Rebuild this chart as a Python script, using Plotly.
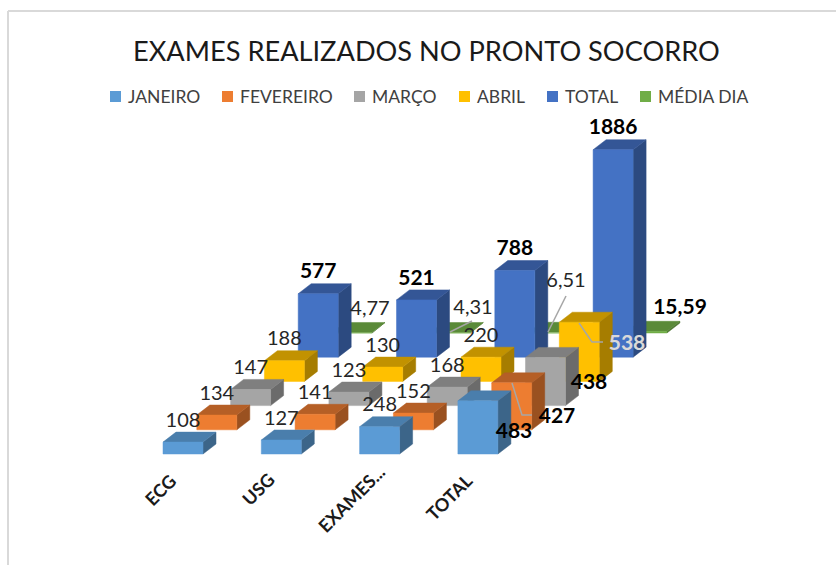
import plotly.graph_objects as go

categories = ["ECG", "USG", "EXAMES...", "TOTAL"]
series_names = ["JANEIRO", "FEVEREIRO", "MARÇO", "ABRIL", "TOTAL", "MÉDIA DIA"]
janeiro = [108, 127, 248, 483]
fevereiro = [134, 141, 152, 427]
marco = [147, 123, 168, 438]
abril = [188, 130, 220, 538]
total = [577, 521, 788, 1886]
media_dia = [4.77, 4.31, 6.51, 15.59]
series_values = [janeiro, fevereiro, marco, abril, total, media_dia]

front_colors = ["#5B9BD5", "#ED7D31", "#A5A5A5", "#FFC000", "#4472C4", "#70AD47"]
top_colors = ["#4A7EAC", "#B55F26", "#7F7F7F", "#C29200", "#345696", "#5A8A38"]
side_colors = ["#3C6589", "#9A5120", "#6B6B6B", "#A67D00", "#2C4A80", "#4C7530"]

W, H = 836, 565
CAT_PX, VAL_PX = 98.3, 0.11        # pixels per category / per value unit
X0_PX, Y0_PX = 163, 454            # where category 0, value 0 of the front series sits
BAR_W = 40 / CAT_PX
SER_DX, SER_DY = 33.8 / CAT_PX, 24.2 / VAL_PX
DEP_DX, DEP_DY = 13 / CAT_PX, 10 / VAL_PX


def at(xp, yp):
    return (xp - X0_PX) / CAT_PX, (Y0_PX - yp) / VAL_PX


def origin(c, s):
    return c + s * SER_DX, s * SER_DY


fig = go.Figure()


def poly(xs, ys, color):
    fig.add_trace(go.Scatter(x=xs, y=ys, mode="lines", fill="toself", fillcolor=color,
                             line=dict(color=color, width=0.5), hoverinfo="skip", showlegend=False))


for s in reversed(range(len(series_values))):
    fx, fy, tx, ty, rx, ry = [], [], [], [], [], []
    for c, v in enumerate(series_values[s]):
        x, y = origin(c, s)
        fx += [x, x + BAR_W, x + BAR_W, x, x, None]
        fy += [y, y, y + v, y + v, y, None]
        tx += [x, x + BAR_W, x + BAR_W + DEP_DX, x + DEP_DX, x, None]
        ty += [y + v, y + v, y + v + DEP_DY, y + v + DEP_DY, y + v, None]
        rx += [x + BAR_W, x + BAR_W + DEP_DX, x + BAR_W + DEP_DX, x + BAR_W, x + BAR_W, None]
        ry += [y, y + DEP_DY, y + v + DEP_DY, y + v, y, None]
    poly(rx, ry, side_colors[s])
    poly(tx, ty, top_colors[s])
    poly(fx, fy, front_colors[s])

# leader lines of the moved data labels (page pixels)
leaders = [
    [(472, 321), (450, 332)],
    [(566, 296), (548, 332)],
    [(579, 323), (592, 342), (603, 342)],
    [(512, 383), (522, 415), (532, 415)],
]
for pts in leaders:
    conv = [at(*p) for p in pts]
    fig.add_trace(go.Scatter(x=[p[0] for p in conv], y=[p[1] for p in conv], mode="lines",
                             line=dict(color="#A6A6A6", width=1.5), hoverinfo="skip", showlegend=False))

# data labels: above the bar by default; hand-moved ones as in the reference
moved = {
    (5, 0): (370, 310), (5, 1): (473, 309), (5, 2): (566, 282), (5, 3): (680, 309),
    (0, 3): (514, 433), (1, 3): (557, 418), (2, 3): (589, 384), (3, 3): (627, 345),
}
lx, ly, lt, lc, ls = [], [], [], [], []
for s, vals in enumerate(series_values):
    for c, v in enumerate(vals):
        if (s, c) in moved:
            x, y = at(*moved[(s, c)])
        else:
            x0, y0 = origin(c, s)
            x, y = x0 + BAR_W / 2, y0 + v + 20.5 / VAL_PX
        bold = s == 4 or c == 3
        txt = f"{v:.2f}".replace(".", ",") if s == 5 else str(v)
        if bold:
            txt = f"<b>{txt}</b>"
        lx.append(x)
        ly.append(y)
        lt.append(txt)
        ls.append(21 if bold else 20)
        lc.append("#D9D9D9" if (s, c) == (3, 3) else "#000000" if bold else "#262626")
fig.add_trace(go.Scatter(x=lx, y=ly, text=lt, mode="text", textposition="middle center",
                         textfont=dict(family="Lato", size=ls, color=lc),
                         hoverinfo="skip", showlegend=False))

annotations = [dict(text="EXAMES REALIZADOS NO PRONTO SOCORRO", xref="paper", yref="paper",
                    x=426 / W, y=1 - 50 / H, xanchor="center", yanchor="middle", showarrow=False,
                    font=dict(family="Lato", size=27.2, color="#1a1a1a"))]
shapes = [
    dict(type="line", xref="paper", yref="paper", x0=8 / W, x1=8 / W, y0=0, y1=1 - 11 / H,
         line=dict(color="#D9D9D9", width=2)),
    dict(type="line", xref="paper", yref="paper", x0=8 / W, x1=1, y0=1 - 11 / H, y1=1 - 11 / H,
         line=dict(color="#D9D9D9", width=2)),
]

swatch_px = [110, 222, 354, 459, 547, 640]
for name, sx, col in zip(series_names, swatch_px, front_colors):
    shapes.append(dict(type="rect", xref="paper", yref="paper", x0=sx / W, x1=(sx + 11) / W,
                       y0=1 - 102 / H, y1=1 - 91 / H, fillcolor=col, line=dict(width=0)))
    annotations.append(dict(text=name, xref="paper", yref="paper", x=(sx + 16) / W, y=1 - 96 / H,
                            xanchor="left", yanchor="middle", showarrow=False,
                            font=dict(family="Lato", size=17.5, color="#404040")))

cat_label_centers = [(160, 490), (258, 489), (351, 499), (449, 497)]
for name, (cx, cy) in zip(categories, cat_label_centers):
    ax, ay = at(cx, cy)
    annotations.append(dict(text=f"<b>{name}</b>", x=ax, y=ay, xref="x", yref="y",
                            xanchor="center", yanchor="middle", showarrow=False, textangle=-45,
                            font=dict(family="Lato", size=18, color="#1a1a1a")))

fig.update_layout(
    width=W, height=H, margin=dict(l=0, r=0, t=0, b=0),
    paper_bgcolor="white", plot_bgcolor="white", showlegend=False,
    xaxis=dict(range=[-X0_PX / CAT_PX, (W - X0_PX) / CAT_PX], visible=False, fixedrange=True),
    yaxis=dict(range=[(Y0_PX - H) / VAL_PX, Y0_PX / VAL_PX], visible=False, fixedrange=True),
    annotations=annotations, shapes=shapes,
)
fig.write_html("out.html", post_script="document.body.style.margin='0';", config={"displayModeBar": False})
